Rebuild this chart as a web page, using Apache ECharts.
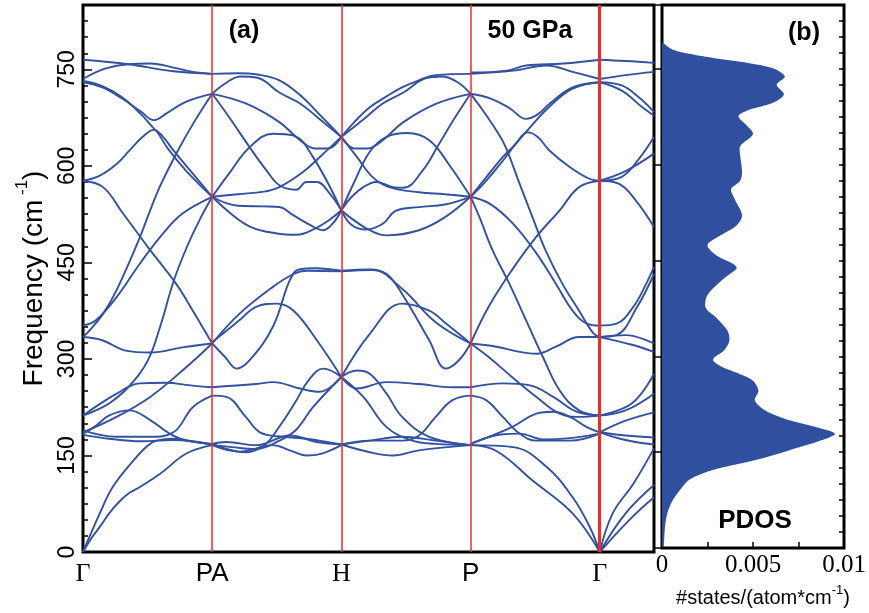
<!DOCTYPE html>
<html>
<head>
<meta charset="utf-8">
<script src="https://cdn.jsdelivr.net/npm/echarts/dist/echarts.min.js"></script>
<style>
  html, body { margin: 0; padding: 0; background: #fff; }
  #chart { width: 869px; height: 613px; }
</style>
</head>
<body>
<div id="chart"></div>
<script>
// High-symmetry path: positions along the wave-vector axis and their labels
const pathTicks = [0, 1, 2, 3, 4];
const pathLabels = ['Γ', 'PA', 'H', 'P', 'Γ'];
const pathEnd = 4.42;
const freqMax = 850;

// Phonon branches, [path position, frequency in cm^-1], one list per segment
const bandsGammaPA = [
  [[0,765],[0.35,758],[0.7,747],[1,743]],
  [[0,735],[0.17,751],[0.35,758],[0.52,759],[0.72,752],[0.85,746],[1,743]],
  [[0,730],[0.15,722],[0.3,705],[0.45,684],[0.55,671],[0.65,682],[0.8,700],[1,712]],
  [[0,732],[0.15,724],[0.3,707],[0.45,680],[0.53,662],[0.58,651],[0.66,626],[0.8,592],[1,552]],
  [[0,577],[0.13,585],[0.26,603],[0.36,624],[0.46,645],[0.55,656],[0.62,645],[0.7,624],[0.85,588],[1,552]],
  [[0,577],[0.155,567],[0.31,526],[0.52,469],[0.72,417],[0.85,375],[1,324]],
  [[0,334],[0.05,344],[0.155,370],[0.26,407],[0.44,489],[0.52,531],[0.6,570],[0.735,624],[0.86,668],[1,712]],
  [[0,352],[0.1,360],[0.26,396],[0.44,448],[0.62,495],[0.77,526],[1,552]],
  [[0,212],[0.1,220],[0.21,232],[0.35,256],[0.5,297],[0.6,352],[0.7,420],[0.8,472],[0.9,515],[1,552]],
  [[0,334],[0.15,329],[0.33,313],[0.52,310],[0.77,318],[1,324]],
  [[0,212],[0.26,246],[0.44,262],[0.64,263],[0.83,259],[1,256]],
  [[0,186],[0.26,210],[0.52,241],[0.77,282],[1,324]],
  [[0,184],[0.1,196],[0.2,212],[0.36,220],[0.52,205],[0.67,184],[0.8,173],[1,168]],
  [[0,189],[0.26,179],[0.52,179],[0.7,186],[0.85,225],[1,243]],
  [[0,182],[0.2,176],[0.45,172],[0.7,174],[1,167]],
  [[0,0],[0.13,60],[0.23,101],[0.39,142],[0.5,165],[0.57,173],[0.7,176],[0.85,172],[1,167]],
  [[0,0],[0.06,20],[0.13,39],[0.21,62],[0.29,80],[0.36,92],[0.44,101],[0.6,122],[0.8,153],[1,166]]
];

const bandsPAH = [
  [[1,743],[1.2,744],[1.35,742],[1.52,733],[1.68,710],[1.83,680],[2,645]],
  [[1,712],[1.1,728],[1.22,739],[1.35,737],[1.52,714],[1.68,697],[1.83,673],[2,645]],
  [[1,712],[1.26,697],[1.52,668],[1.68,640],[1.8,627],[1.9,627],[2,645]],
  [[1,712],[1.13,676],[1.29,629],[1.42,593],[1.52,570],[1.65,563],[1.73,575],[1.81,575],[1.91,557],[2,531]],
  [[1,552],[1.13,588],[1.29,629],[1.47,650],[1.63,647],[1.78,614],[2,531]],
  [[1,552],[1.2,556],[1.4,560],[1.52,567],[1.7,590],[1.85,617],[2,645]],
  [[1,552],[1.2,538],[1.4,537],[1.52,536],[1.63,523],[1.76,508],[1.86,500],[1.94,512],[2,531]],
  [[1,552],[1.15,525],[1.3,505],[1.5,495],[1.65,493],[1.8,503],[1.92,518],[2,531]],
  [[1,324],[1.21,370],[1.47,412],[1.63,432],[1.73,437],[2,436]],
  [[1,324],[1.1,303],[1.19,285],[1.29,298],[1.47,350],[1.6,422],[1.67,439],[1.8,441],[2,437]],
  [[1,326],[1.21,360],[1.34,381],[1.5,386],[1.63,375],[1.81,329],[2,272]],
  [[1,256],[1.34,261],[1.47,264],[1.68,254],[1.83,249],[2,272]],
  [[1,243],[1.11,241],[1.26,210],[1.37,186],[1.55,179],[1.73,176],[2,167]],
  [[1,168],[1.26,155],[1.4,165],[1.52,195],[1.65,235],[1.75,268],[1.86,285],[2,272]],
  [[1,166],[1.15,163],[1.34,160],[1.52,173],[1.65,190],[1.78,225],[2,272]],
  [[1,168],[1.11,171],[1.34,166],[1.6,181],[1.81,171],[2,167]],
  [[1,166],[1.21,156],[1.47,166],[1.6,158],[1.73,150],[1.85,153],[2,166]]
];

const bandsHP = [
  [[2,645],[2.1,668],[2.22,691],[2.35,708],[2.47,722],[2.6,733],[2.73,741],[3,743]],
  [[2,645],[2.17,672],[2.32,697],[2.48,714],[2.65,736],[2.78,739],[2.9,730],[3,712]],
  [[2,645],[2.1,627],[2.2,627],[2.32,640],[2.48,668],[2.74,697],[3,712]],
  [[2,531],[2.08,552],[2.17,567],[2.27,575],[2.4,567],[2.48,566],[2.63,593],[2.75,632],[2.87,672],[3,712]],
  [[2,531],[2.1,575],[2.22,622],[2.35,645],[2.51,651],[2.68,640],[2.83,603],[3,552]],
  [[2,645],[2.12,614],[2.24,583],[2.37,567],[2.6,559],[2.8,556],[3,552]],
  [[2,531],[2.08,508],[2.19,501],[2.32,510],[2.42,530],[2.6,536],[2.8,540],[3,552]],
  [[2,531],[2.08,518],[2.22,500],[2.35,492],[2.6,500],[2.8,520],[3,552]],
  [[2,436],[2.24,438],[2.47,409],[2.73,357],[3,324]],
  [[2,437],[2.22,439],[2.35,432],[2.47,401],[2.68,329],[2.81,285],[2.91,298],[3,324]],
  [[2,272],[2.22,339],[2.47,386],[2.68,375],[2.81,355],[3,324]],
  [[2,272],[2.12,254],[2.35,264],[2.6,261],[2.86,256],[3,256]],
  [[2,167],[2.22,173],[2.47,173],[2.6,181],[2.73,210],[2.86,236],[3,243]],
  [[2,272],[2.12,282],[2.22,277],[2.35,246],[2.47,210],[2.68,179],[3,166]],
  [[2,272],[2.17,241],[2.35,194],[2.55,173],[2.73,168],[3,166]],
  [[2,167],[2.22,173],[2.47,179],[2.73,173],[3,166]],
  [[2,167],[2.22,155],[2.4,150],[2.6,158],[3,166]]
];

const bandsPGamma = [
  [[3,745],[3.28,748],[3.43,756],[3.72,759],[4,765]],
  [[3,743],[3.33,748],[3.59,756],[3.79,746],[4,735]],
  [[3,712],[3.15,705],[3.3,690],[3.43,673],[3.52,680],[3.62,698],[3.79,722],[4,730]],
  [[3,552],[3.1,577],[3.25,614],[3.32,628],[3.44,655],[3.6,690],[3.79,720],[4,730]],
  [[3,552],[3.1,572],[3.25,608],[3.35,634],[3.44,652],[3.52,645],[3.61,624],[3.77,598],[3.92,580],[4,577]],
  [[3,712],[3.1,685],[3.2,655],[3.27,630],[3.38,572],[3.48,520],[3.58,469],[3.71,417],[3.84,375],[3.95,340],[4,334]],
  [[3,552],[3.15,541],[3.33,510],[3.51,464],[3.66,417],[3.79,375],[3.9,355],[4,352]],
  [[3,552],[3.07,520],[3.17,469],[3.3,417],[3.43,360],[3.56,303],[3.69,251],[3.84,220],[4,212]],
  [[3,324],[3.14,381],[3.32,438],[3.51,490],[3.69,531],[3.84,567],[4,577]],
  [[3,324],[3.2,319],[3.38,311],[3.51,308],[3.66,319],[3.84,334],[4,334]],
  [[3,324],[3.14,303],[3.32,272],[3.51,241],[3.69,215],[3.84,210],[4,212]],
  [[3,256],[3.25,262],[3.46,259],[3.64,241],[3.82,218],[4,212]],
  [[3,243],[3.12,236],[3.25,210],[3.38,184],[3.51,173],[3.77,173],[4,184]],
  [[3,168],[3.14,179],[3.32,194],[3.51,215],[3.64,218],[3.77,210],[3.9,194],[4,186]],
  [[3,168],[3.25,183],[3.38,184],[3.56,175],[3.77,177],[4,184]],
  [[3,166],[3.2,157],[3.48,111],[3.79,60],[4,0]],
  [[3,166],[3.33,163],[3.59,132],[3.79,85],[3.92,40],[4,0]]
];

const bandsGammaEnd = [
  [[4,765],[4.2,763],[4.42,760]],
  [[4,735],[4.2,741],[4.42,746]],
  [[4,730],[4.17,725],[4.3,707],[4.42,684]],
  [[4,730],[4.17,717],[4.33,691],[4.42,678]],
  [[4,577],[4.15,572],[4.28,546],[4.42,505]],
  [[4,577],[4.17,583],[4.3,610],[4.42,645]],
  [[4,577],[4.2,592],[4.42,619]],
  [[4,352],[4.13,355],[4.26,381],[4.36,417],[4.42,443]],
  [[4,334],[4.13,337],[4.29,381],[4.42,432]],
  [[4,334],[4.2,337],[4.42,324]],
  [[4,334],[4.25,322],[4.42,311]],
  [[4,212],[4.2,220],[4.42,246]],
  [[4,212],[4.25,231],[4.42,277]],
  [[4,186],[4.2,204],[4.42,217]],
  [[4,186],[4.2,181],[4.42,178]],
  [[4,186],[4.2,174],[4.42,167]],
  [[4,0],[4.1,60],[4.26,106],[4.42,161]],
  [[4,0],[4.2,60],[4.42,104]],
  [[4,0],[4.23,50],[4.42,85]]
];

// Phonon density of states: frequency (cm^-1) and #states/(atom*cm^-1)
const pdosFreq = [0,7,29,49,70,91,107,122,138,153,169,179,189,200,215,231,246,262,272,285,
  295,309,324,340,360,376,396,422,438,445,458,474,489,505,521,546,562,575,588,614,
  629,648,663,676,686,697,710,725,738,751,759,769,780,792];
const pdosStates = [0,0.0001,0.00015,0.00025,0.0005,0.0010,0.0015,0.0028,0.0052,0.0070,
  0.0088,0.0095,0.0085,0.0070,0.0057,0.0051,0.0053,0.0050,0.0043,0.0032,
  0.0028,0.0034,0.0037,0.0036,0.0030,0.0024,0.0025,0.0034,0.0041,0.0039,
  0.0030,0.0025,0.0032,0.0041,0.0044,0.0040,0.0038,0.0043,0.0044,0.0043,
  0.0043,0.0050,0.0046,0.0042,0.0048,0.0061,0.0067,0.0063,0.00675,0.0061,
  0.0048,0.0024,0.0006,0];
const dosTickLabels = { 0: '0', 50: '0.005', 100: '0.01' };

const BLUE = '#3351a1';
const RED = '#ee2b2b';
const SANS = 'Liberation Sans';
const SERIF = 'Liberation Serif';

const chart = echarts.init(document.getElementById('chart'), null, { renderer: 'canvas' });

const series = [];
[].concat(bandsGammaPA, bandsPAH, bandsHP, bandsPGamma, bandsGammaEnd).forEach(function (branch) {
  series.push({
    type: 'line', xAxisIndex: 0, yAxisIndex: 0,
    data: branch, smooth: 0.4, symbol: 'none', silent: true,
    lineStyle: { color: BLUE, width: 1.9 }, z: 2
  });
});

// Vertical markers at the high-symmetry points
series.push({
  type: 'line', xAxisIndex: 0, yAxisIndex: 0, data: [], silent: true,
  markLine: {
    symbol: ['none', 'none'], silent: true, label: { show: false },
    lineStyle: { color: RED, width: 1.5, type: 'solid' },
    data: pathTicks.slice(1).map(function (q, i) {
      return i === pathTicks.length - 2
        ? { xAxis: q, lineStyle: { width: 3, color: RED, type: 'solid' } }
        : { xAxis: q };
    })
  },
  z: 3
});

// Filled density-of-states profile, drawn from the frequency axis outward
series.push({
  type: 'custom', xAxisIndex: 1, yAxisIndex: 2, clip: true, silent: true,
  data: [[0, 0]],
  renderItem: function (params, api) {
    const pts = [api.coord([0, pdosFreq[0]])];
    for (let i = 0; i < pdosFreq.length; i++) {
      pts.push(api.coord([pdosStates[i], pdosFreq[i]]));
    }
    pts.push(api.coord([0, pdosFreq[pdosFreq.length - 1]]));
    return {
      type: 'polygon',
      shape: { points: pts, smooth: 0.3 },
      style: { fill: '#30509f', stroke: null }
    };
  }
});

const supRich = function (size, supSize, lh) {
  return {
    n: { fontFamily: SANS, fontSize: size, color: '#000', lineHeight: lh, verticalAlign: 'bottom' },
    s: { fontFamily: SANS, fontSize: supSize, color: '#000', lineHeight: Math.round(supSize * 1.05), verticalAlign: 'top' }
  };
};

const tickStyle = { color: '#000', width: 1.5 };

const option = {
  animation: false,
  backgroundColor: '#fff',
  grid: [
    { left: 83, top: 5, width: 571, height: 547, show: true, borderColor: '#000', borderWidth: 3, backgroundColor: 'transparent' },
    { left: 662, top: 5, width: 182, height: 547, show: true, borderColor: '#000', borderWidth: 3, backgroundColor: 'transparent' }
  ],
  xAxis: [
    {
      gridIndex: 0, type: 'value', min: 0, max: pathEnd, interval: 1,
      axisLine: { show: false }, axisTick: { show: false }, splitLine: { show: false },
      axisLabel: {
        margin: 9, showMinLabel: true, showMaxLabel: false,
        formatter: function (v) {
          const i = pathTicks.indexOf(v);
          if (i < 0) return '';
          const s = pathLabels[i];
          return (s === 'Γ' || s === 'H') ? '{serif|' + s + '}' : '{sans|' + s + '}';
        },
        rich: {
          serif: { fontFamily: SERIF, fontSize: 26, color: '#000' },
          sans: { fontFamily: SANS, fontSize: 26, color: '#000' }
        }
      }
    },
    {
      gridIndex: 1, type: 'value', min: 0, max: 0.01, interval: 0.0025,
      axisLine: { show: false }, splitLine: { show: false },
      axisTick: { inside: true, length: 6, lineStyle: tickStyle },
      axisLabel: {
        margin: 5, showMinLabel: true, showMaxLabel: true,
        fontFamily: SERIF, fontSize: 25, color: '#000',
        formatter: function (v) {
          const k = Math.round(v * 10000);
          return dosTickLabels[k] !== undefined ? dosTickLabels[k] : '';
        }
      },
      name: '{n|#states/(atom*cm}{s|-1}{n|)}',
      nameLocation: 'middle', nameGap: 36,
      nameTextStyle: { rich: supRich(20, 13, 24), padding: [0, 0, 0, 20] }
    }
  ],
  yAxis: [
    {
      gridIndex: 0, type: 'value', min: 0, max: freqMax, interval: 150, position: 'left',
      axisLine: { show: false }, splitLine: { show: false },
      axisTick: { inside: true, length: 9, lineStyle: tickStyle },
      axisLabel: { rotate: 90, margin: 4, fontFamily: SANS, fontSize: 23, color: '#000', showMaxLabel: false },
      name: '{n|Frequency (cm}{s| -1}{n|)}',
      nameLocation: 'middle', nameGap: 34,
      nameTextStyle: { rich: supRich(28, 17, 34) }
    },
    {
      gridIndex: 0, type: 'value', min: 0, max: freqMax, interval: 25, position: 'left',
      axisLine: { show: false }, splitLine: { show: false }, axisLabel: { show: false },
      axisTick: { inside: true, length: 5, lineStyle: tickStyle }
    },
    {
      gridIndex: 1, type: 'value', min: 0, max: freqMax, interval: 150, position: 'right',
      axisLine: { show: false }, splitLine: { show: false }, axisLabel: { show: false },
      axisTick: { inside: true, length: 9, lineStyle: tickStyle }
    },
    {
      gridIndex: 1, type: 'value', min: 0, max: freqMax, interval: 25, position: 'right',
      axisLine: { show: false }, splitLine: { show: false }, axisLabel: { show: false },
      axisTick: { inside: true, length: 5, lineStyle: tickStyle }
    }
  ],
  graphic: [
    { type: 'text', x: 244, y: 31, z: 10, style: { text: '(a)', font: 'bold 25px "Liberation Sans"', fill: '#000', align: 'center', verticalAlign: 'middle', textAlign: 'center', textVerticalAlign: 'middle' } },
    { type: 'text', x: 530, y: 31, z: 10, style: { text: '50 GPa', font: 'bold 25px "Liberation Sans"', fill: '#000', align: 'center', verticalAlign: 'middle', textAlign: 'center', textVerticalAlign: 'middle' } },
    { type: 'text', x: 804, y: 33, z: 10, style: { text: '(b)', font: 'bold 25px "Liberation Sans"', fill: '#000', align: 'center', verticalAlign: 'middle', textAlign: 'center', textVerticalAlign: 'middle' } },
    { type: 'text', x: 755, y: 521, z: 10, style: { text: 'PDOS', font: 'bold 26px "Liberation Sans"', fill: '#000', align: 'center', verticalAlign: 'middle', textAlign: 'center', textVerticalAlign: 'middle' } }
  ],
  series: series
};

chart.setOption(option);
</script>
</body>
</html>
